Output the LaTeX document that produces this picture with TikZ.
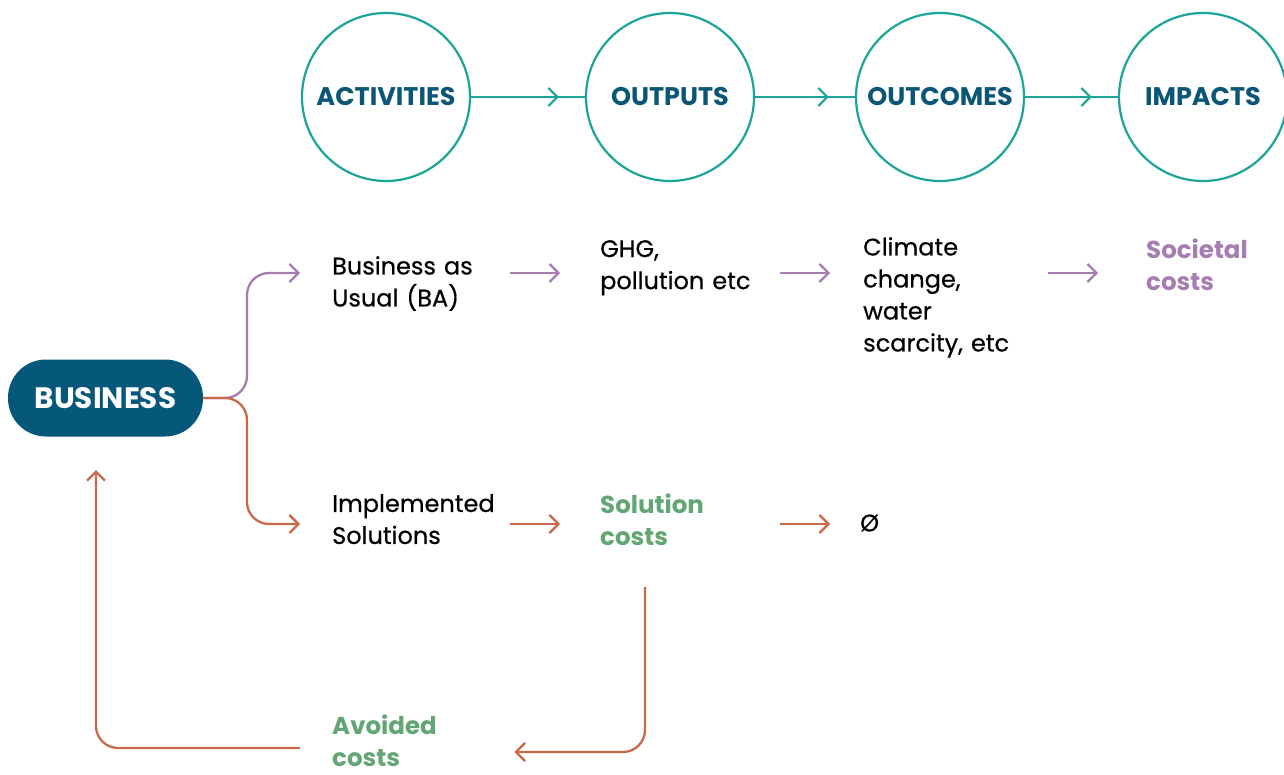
\documentclass[tikz,border=0pt]{standalone}
\usepackage{fontspec}
\setmainfont{Poppins}
\newfontfamily\medfont{Poppins}[FakeBold=0.5]
\usetikzlibrary{arrows.meta,decorations.markings}
\definecolor{tealline}{HTML}{1BA497}
\definecolor{darkblue}{HTML}{0B5677}
\definecolor{busblue}{HTML}{06587A}
\definecolor{purp}{HTML}{A57DB0}
\definecolor{orng}{HTML}{C8694A}
\definecolor{grn}{HTML}{62A673}
\tikzset{
  stage/.style={circle,draw=tealline,line width=2.2pt,minimum size=168pt,inner sep=0pt,
    text=darkblue,font=\fontsize{25.5}{30}\selectfont\bfseries},
  flow/.style={color=tealline,line width=2.2pt,postaction={decorate},
    decoration={markings,mark=at position -26pt with {\arrow{Straight Barb[length=9pt,width=18pt]}}}},
  parr/.style={draw=purp,line width=2.3pt,-{Straight Barb[length=9pt,width=18pt]}},
  oarr/.style={draw=orng,line width=2.3pt,-{Straight Barb[length=9pt,width=18pt]}},
  txt/.style={anchor=north west,inner sep=0pt,align=left,font=\medfont\fontsize{24}{32}\selectfont},
  hl/.style={txt,font=\fontsize{24.5}{32}\selectfont\bfseries}
}
\begin{document}
\begin{tikzpicture}[x=1pt,y=-1pt]
  \useasboundingbox (0,0) rectangle (1284,775);
  \node[stage] (act) at (386,97) {ACTIVITIES};
  \node[stage] (out) at (670,97) {OUTPUTS};
  \node[stage] (oc) at (940,97) {OUTCOMES};
  \node[stage] (imp) at (1203,97) {IMPACTS};
  \draw[flow] (act) -- (out);
  \draw[flow] (out) -- (oc);
  \draw[flow] (oc) -- (imp);

  \node[rectangle,rounded corners=38pt,fill=busblue,minimum width=195pt,minimum height=77pt,
    text=white,font=\fontsize{29.5}{30}\selectfont\bfseries] (bus) at (105.5,398) {BUSINESS};

  \node[txt,text width=150pt] (ba) at (332,256) {Business as\\Usual (BA)};
  \node[txt,text width=160pt] (ghg) at (600,240) {GHG,\\pollution etc};
  \node[txt,text width=160pt] (cc) at (863,237) {Climate\\change,\\water\\scarcity, etc};
  \node[hl,text width=120pt,text=purp] (soc) at (1146,239) {Societal\\costs};
  \node[txt,text width=150pt] (is) at (332,494) {Implemented\\Solutions};
  \node[hl,text width=160pt,text=grn] (sc) at (600,494) {Solution\\costs};
  \node[txt,anchor=west] (nul) at (860,523) {Ø};
  \node[hl,text width=120pt,text=grn] (av) at (332,715) {Avoided\\costs};

  \coordinate (r1) at (0,273);
  \coordinate (r2) at (0,524);
  \coordinate (r3) at (0,752);
  \coordinate (r4) at (0,748);
  \coordinate (fork) at (247,398);
  \coordinate (drop) at (645,587);
  \coordinate (back) at (96,470);

  \draw[parr,rounded corners=22pt] (bus.east) -| (fork |- r1) -- ([xshift=-32pt]ba.west |- r1);
  \draw[oarr,rounded corners=22pt] (bus.east) -| (fork |- r2) -- ([xshift=-32pt]is.west |- r2);
  \draw[parr,shorten <=28pt,shorten >=40pt] (ba.east |- r1) -- (ghg.west |- r1);
  \draw[parr,shorten <=20pt,shorten >=33pt] (ghg.east |- r1) -- (cc.west |- r1);
  \draw[parr,shorten <=25pt,shorten >=48pt] (cc.east |- r1) -- (soc.west |- r1);
  \draw[oarr,shorten <=28pt,shorten >=40pt] (is.east |- r2) -- (sc.west |- r2);
  \draw[oarr,shorten <=20pt,shorten >=30pt] (sc.east |- r2) -- (nul.west |- r2);
  \draw[oarr,rounded corners=22pt] (drop) |- ([xshift=62pt]av.east |- r3);
  \draw[oarr,rounded corners=22pt] ([xshift=-32pt]av.west |- r4) -| (back);
\end{tikzpicture}
\end{document}
